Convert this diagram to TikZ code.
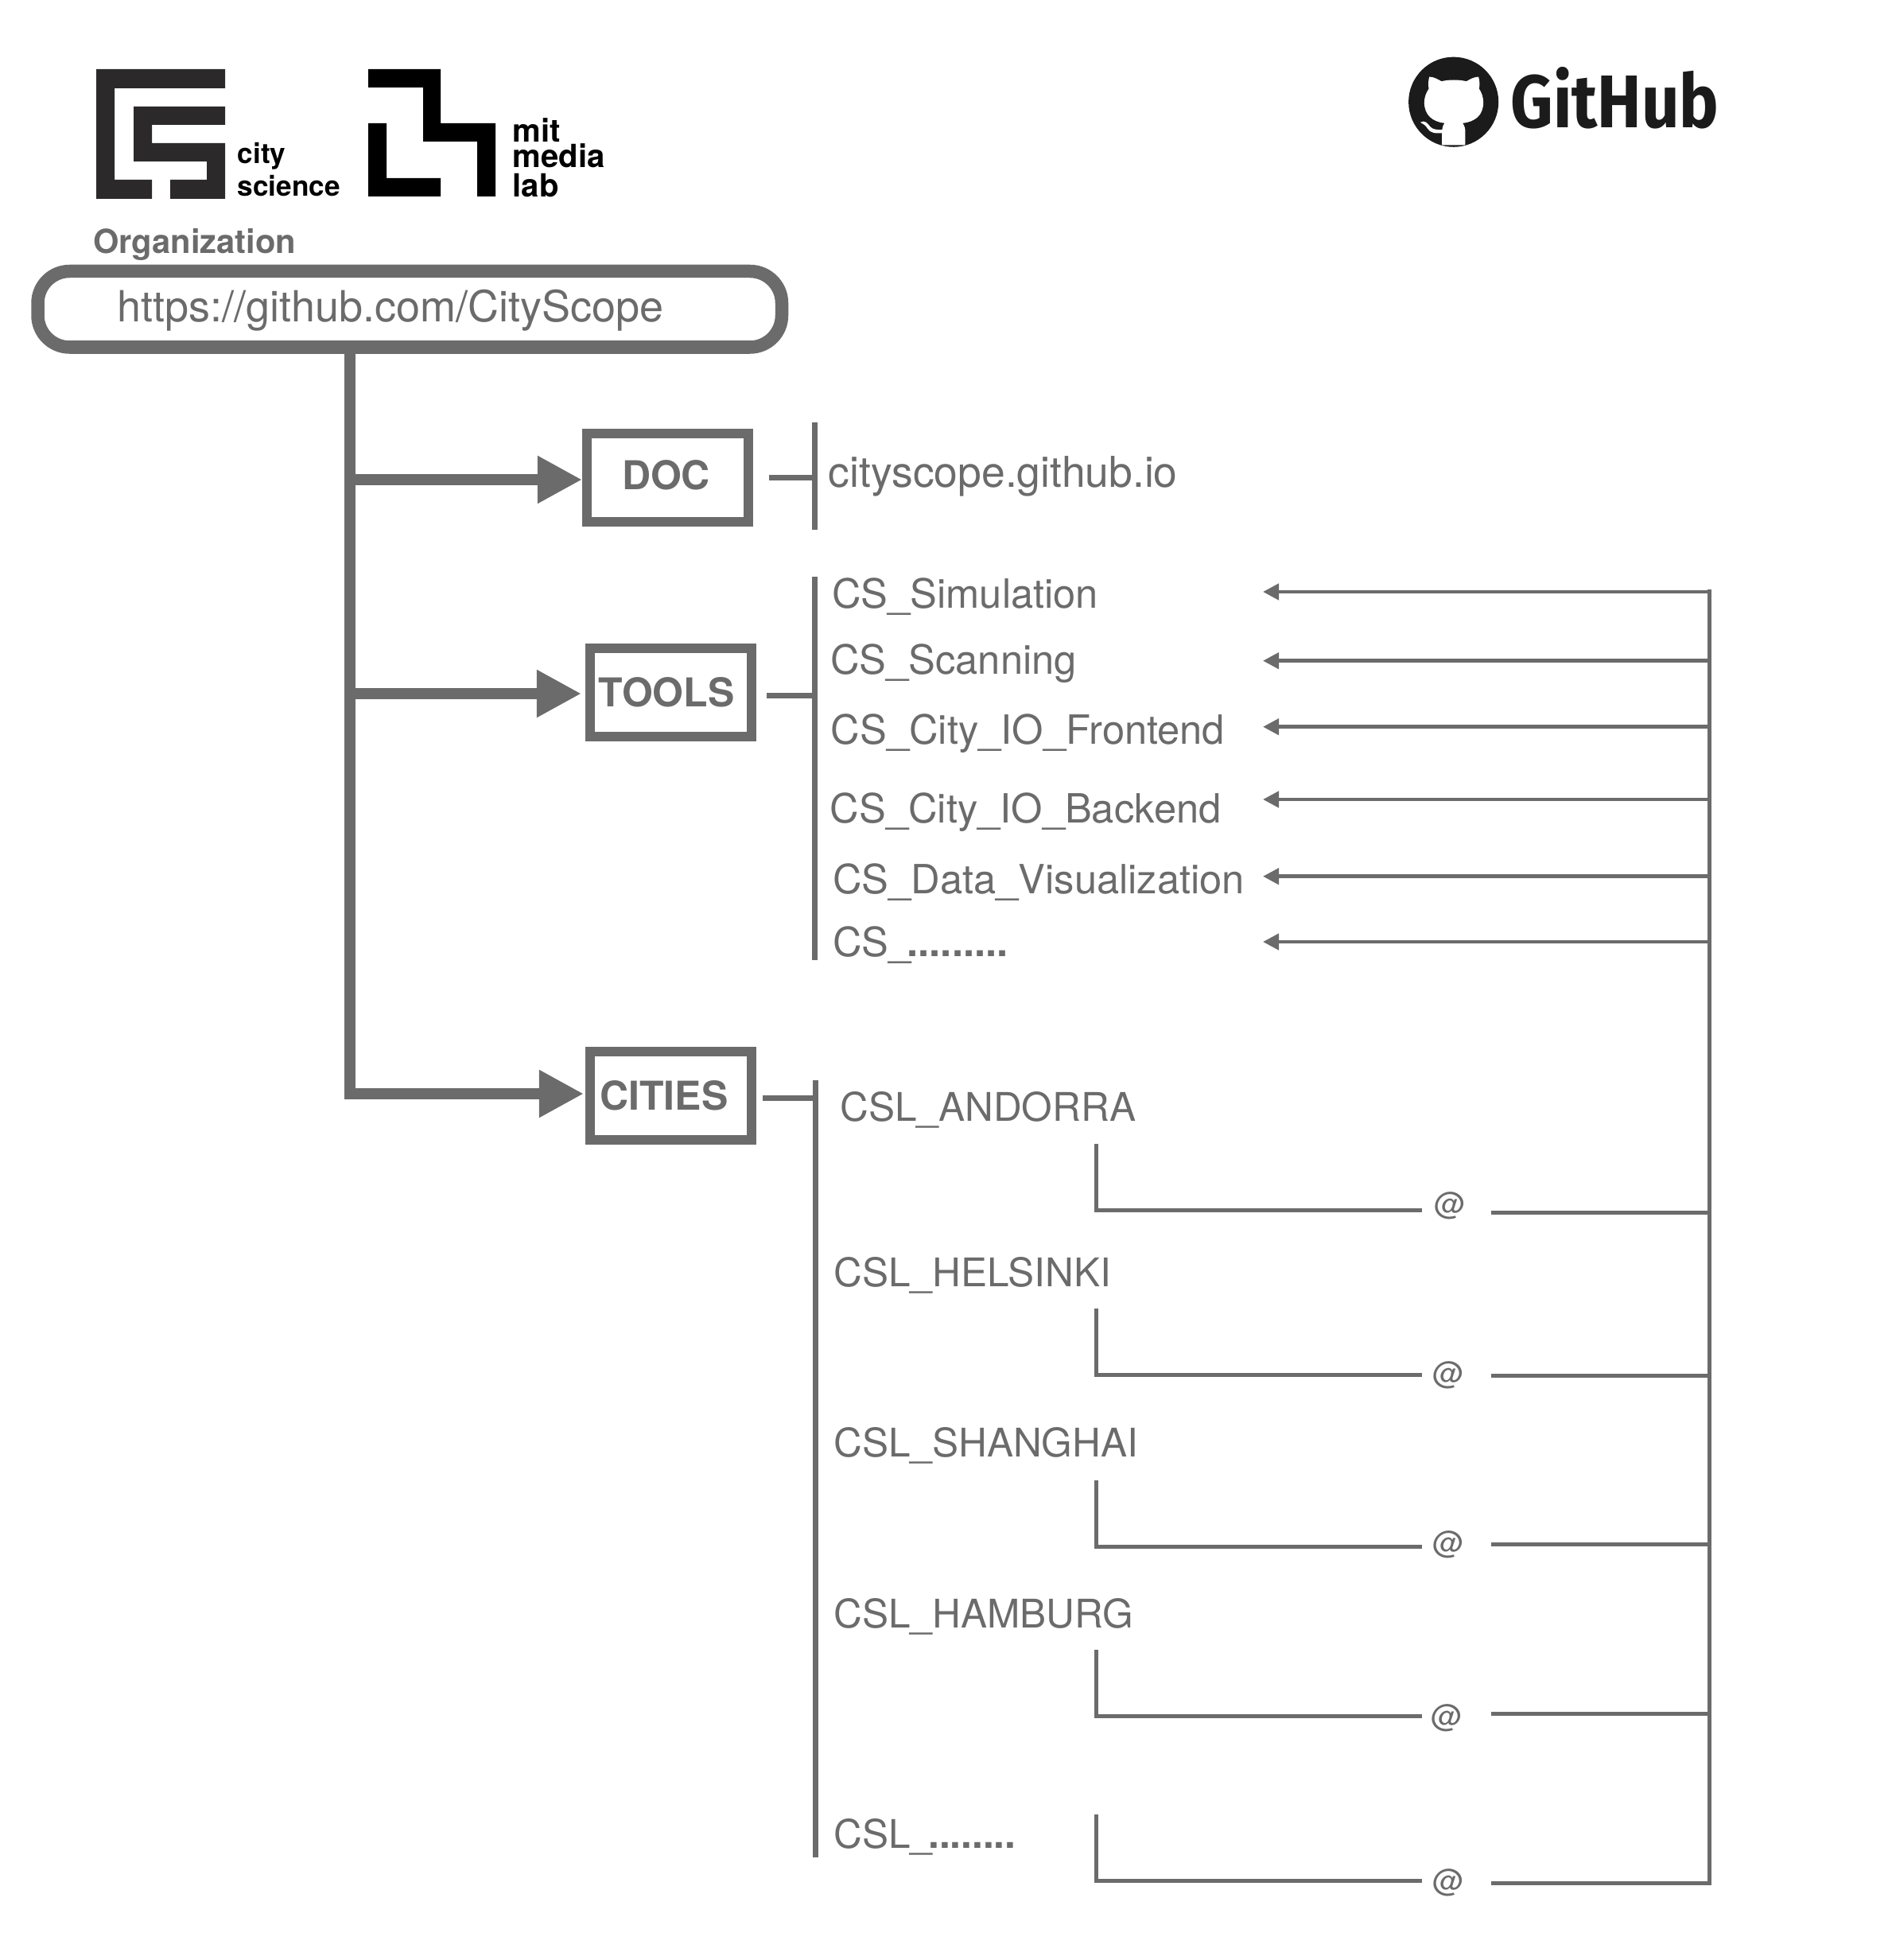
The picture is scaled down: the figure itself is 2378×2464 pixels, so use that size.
\documentclass[tikz,border=0pt]{standalone}
\usepackage{fontspec}
\setmainfont{TeX Gyre Heros}
\newfontfamily\ghfont{Fira Sans}
\usetikzlibrary{arrows.meta}
\newdimen\px
\px=0.01cm
\newcommand{\toolmore}{CS\_\kern-5\px\textbf{.........}}
\newcommand{\citymore}{CSL\_\kern-5\px\textbf{........}}
\definecolor{linegray}{HTML}{6B6B6B}
\definecolor{csblack}{HTML}{2B2929}
\definecolor{ghblack}{HTML}{1B1B1B}
\tikzset{
  plain/.style={inner sep=0pt,anchor=base west,text=linegray,yshift=-1.5\px},
  item/.style={plain,font=\fontsize{14.4}{17}\selectfont},
  cityitem/.style={plain,font=\fontsize{14.1}{17}\selectfont},
  atmark/.style={inner sep=0pt,text=linegray,font=\fontsize{11.1}{13}\selectfont},
  logotext/.style={inner sep=0pt,anchor=base west,yshift=-2\px,font=\bfseries\fontsize{#1}{#1}\selectfont},
  catbox/.style={draw=linegray,line width=12\px,minimum width=203\px,minimum height=111\px,inner sep=0pt,
    text=linegray,text height=36\px,text depth=0pt,font=\bfseries\fontsize{14.2}{17}\selectfont},
  trunkline/.style={draw=linegray,line width=14\px,-{Triangle[length=15.93pt,width=15.93pt]}},
  stubline/.style={draw=linegray,line width=7\px},
  barline/.style={draw=linegray,line width=7\px},
  railline/.style={draw=linegray,line width=5\px},
  feedline/.style={draw=linegray,line width=4.5\px,-{Triangle[length=5.69pt,width=5.69pt]}}
}
\begin{document}
\begin{tikzpicture}[x=0.01cm,y=-0.01cm]
  \useasboundingbox (0,0) rectangle (2378,2464);
  % logos
  \fill[csblack] (121,87) -- (283,87) -- (283,111) -- (144,111) -- (144,226) -- (191,226) -- (191,250) -- (121,250) -- cycle;
  \fill[csblack] (168,134) -- (283,134) -- (283,157) -- (191,157) -- (191,180) -- (283,180) -- (283,250) -- (214,250) -- (214,226) -- (260,226) -- (260,203) -- (168,203) -- cycle;
  \node[logotext=10] (city) at (298,204) {city};
  \node[logotext=10] (science) at (298,245) {science};
  \fill[black] (463,87) -- (554,87) -- (554,155) -- (623,155) -- (623,247) -- (600,247) -- (600,178) -- (532,178) -- (532,110) -- (463,110) -- cycle;
  \fill[black] (463,155) -- (486,155) -- (486,224) -- (554,224) -- (554,247) -- (463,247) -- cycle;
  \node[logotext=11.4] (mit) at (644,177) {mit};
  \node[logotext=11.4] (media) at (644,209) {media};
  \node[logotext=11.4] (lab) at (644,246) {lab};
  \begin{scope}[shift={(1720,50)},x=0.003333cm,y=-0.003333cm]
    \fill[ghblack] (323.5,235) circle [radius=170];
    \fill[white] (232,140) .. controls (250,140) and (265,150) .. (278,157)
      .. controls (305,150) and (345,150) .. (372,157)
      .. controls (385,150) and (400,140) .. (418,140)
      .. controls (422,155) and (423,170) .. (420,185)
      .. controls (430,200) and (436,217) .. (436,237)
      .. controls (436,285) and (405,310) .. (358,315)
      .. controls (365,325) and (368,335) .. (368,350)
      -- (368,398) -- (280,398) -- (280,350)
      .. controls (280,335) and (283,322) .. (290,315)
      .. controls (245,310) and (213,285) .. (213,237)
      .. controls (213,217) and (220,200) .. (230,185)
      .. controls (227,170) and (228,155) .. (232,140) -- cycle;
    \fill[white] (198,312) .. controls (215,302) and (225,315) .. (235,328)
      .. controls (245,340) and (262,340) .. (282,340) -- (282,352)
      .. controls (255,355) and (235,352) .. (225,335)
      .. controls (218,322) and (208,318) .. (198,312) -- cycle;
  \end{scope}
  \node[inner sep=0pt,anchor=base west,text=ghblack,font=\ghfont\bfseries\fontsize{26.7}{30}\selectfont] (github) at (1899,160.7) {\scalebox{0.886}[1]{GitHub}};
  % organization
  \node[plain,font=\bfseries\fontsize{11.85}{14}\selectfont] (org) at (116.5,316.7) {Organization};
  \node[draw=linegray,line width=16.5\px,rounded corners=40\px,minimum width=935.5\px,minimum height=95.5\px,inner sep=0pt,
    text=linegray,text height=40\px,text depth=9\px,font=\fontsize{15.35}{18}\selectfont] (url) at (515.25,388.75) {\hspace*{-48\px}https://github.com/CityScope};
  % folders
  \node[catbox,text depth=7\px] (doc) at (839.5,600.5) {\hspace*{-4\px}DOC};
  \node[catbox] (tools) at (843.5,870.5) {\hspace*{-11\px}TOOLS};
  \node[catbox] (cities) at (843.5,1377.5) {\hspace*{-17\px}CITIES};
  \coordinate (trunktop) at (440,430);
  \coordinate (armdoc) at (440,603);
  \coordinate (armtools) at (440,872);
  \coordinate (armcities) at (440,1375);
  \draw[trunkline,shorten >=2\px] (trunktop) -- (armcities) -- (armcities -| cities.west);
  \draw[trunkline] (armdoc) -- (armdoc -| doc.west);
  \draw[trunkline,shorten >=5\px] (armtools) -- (armtools -| tools.west);
  % lists
  \coordinate (docbartop) at (1024.5,531);
  \coordinate (docbarend) at (1024.5,666);
  \coordinate (toolbartop) at (1024.5,725);
  \coordinate (toolbarend) at (1024.5,1207);
  \coordinate (citybartop) at (1025.5,1358);
  \coordinate (citybarend) at (1025.5,2335);
  \draw[barline] (docbartop) -- (docbarend);
  \draw[barline] (toolbartop) -- (toolbarend);
  \draw[barline] (citybartop) -- (citybarend);
  \coordinate (docstub) at (967,600.5);
  \coordinate (toolstub) at (964,874.5);
  \coordinate (citystub) at (959,1380.5);
  \draw[stubline] (docstub) -- (docstub -| docbartop);
  \draw[stubline] (toolstub) -- (toolstub -| toolbartop);
  \draw[stubline] (citystub) -- (citystub -| citybartop);
  \node[plain,font=\fontsize{15.2}{18}\selectfont] (pages) at (1041,610.7) {cityscope.github.io};
  % right rail
  \coordinate (railtop) at (2149.5,741);
  \coordinate (railend) at (2149.5,2369.5);
  \draw[railline] (railtop) -- (railend);
  \foreach \name/\txt/\tx/\ty/\ay in {
    sim/CS\_Simulation/1045.5/763/744,
    scan/CS\_Scanning/1043.5/846/830.7,
    front/CS\_City\_IO\_Frontend/1044/934/913.7,
    back/CS\_City\_IO\_Backend/1043/1033/1005,
    vis/CS\_Data\_Visualization/1046.5/1122/1101.7,
    more/\toolmore/1046.5/1200.7/1184}{
    \node[item] (\name) at (\tx,\ty) {\txt};
    \coordinate (\name tip) at (1588,\ay);
    \draw[feedline] (\name tip -| railtop) -- (\name tip);
  }
  \foreach \name/\txt/\tx/\ty/\ey/\hy/\ax/\ay/\sy in {
    andorra/CSL\_ANDORRA/1055.5/1407.7/1438/1521.5/1823/1516/1524.5,
    helsinki/CSL\_HELSINKI/1047.5/1615.7/1645/1728.3/1821.5/1729/1729.3,
    shanghai/CSL\_SHANGHAI/1047.5/1830/1861/1944.3/1821/1942/1941.5,
    hamburg/CSL\_HAMBURG/1047.5/2045/2074/2157.5/1819.5/2160/2154.3,
    dots/\citymore/1047.5/2321.7/2281/2364.3/1821/2367/2367}{
    \node[cityitem] (\name) at (\tx,\ty) {\txt};
    \node[atmark] (\name at) at (\ax,\ay) {@};
    \coordinate (\name top) at (1378.5,\ey);
    \coordinate (\name in) at (1788,\hy);
    \coordinate (\name out) at (1875,\sy);
    \draw[railline] (\name top) |- (\name in);
    \draw[railline] (\name out) -- (\name out -| railtop);
  }
\end{tikzpicture}
\end{document}
